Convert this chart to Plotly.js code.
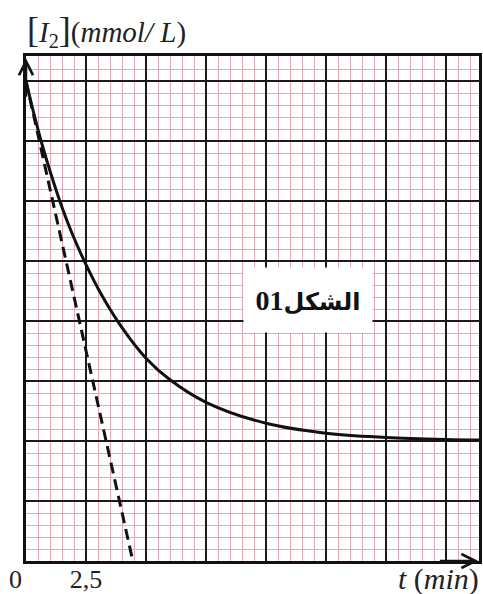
<!DOCTYPE html>
<html>
<head>
<meta charset="utf-8">
<script src="https://cdn.plot.ly/plotly-3.0.1.min.js"></script>
<style>
  html, body { margin: 0; padding: 0; background: #ffffff; }
  #chart { width: 483px; height: 594px; }
</style>
</head>
<body>
<div id="chart"></div>
<script>
// Iodine concentration [I2] versus time t (min), in grid units
const timeMin = [0, 0.3, 0.7, 1.0, 1.4, 1.9, 2.5, 3.2, 4.0, 5.0, 6.0, 7.5, 10, 12.5, 15, 17.5, 18.875];
const iodineConc = [8.0, 7.5, 6.9, 6.5, 6.01, 5.48, 4.94, 4.40, 3.89, 3.38, 3.02, 2.645, 2.295, 2.13, 2.06, 2.025, 2.015];

// Tangent to the curve at t = 0
const tangentTime = [0, 4.45];
const tangentConc = [8.0, 0];

// Time axis: heavy lines every 2.5 min, only 2,5 labelled
const xTickVals = [0, 2.5, 5, 7.5, 10, 12.5, 15, 17.5];
const xTickText = ['', '2,5', '', '', '', '', '', ''];

const serif = 'Liberation Serif, Times New Roman, serif';
const pink = '#e4a9b3';
const ink = '#111111';
const heavy = '#1a1a1a';

const traces = [
  {
    x: tangentTime, y: tangentConc,
    xaxis: 'x2', yaxis: 'y',
    type: 'scatter', mode: 'lines',
    line: { color: ink, width: 3, dash: '11px,6px' },
    hoverinfo: 'skip'
  },
  {
    x: timeMin, y: iodineConc,
    xaxis: 'x2', yaxis: 'y',
    type: 'scatter', mode: 'lines',
    line: { color: ink, width: 3, shape: 'spline', smoothing: 1 },
    hoverinfo: 'skip'
  }
];

const layout = {
  width: 483, height: 594,
  margin: { l: 26, r: 4, t: 56, b: 33 },
  paper_bgcolor: '#ffffff',
  plot_bgcolor: '#ffffff',
  showlegend: false,
  // fine pink ruling every 0.5 min (12 px)
  xaxis: {
    range: [0, 18.875],
    tickmode: 'linear', tick0: 0, dtick: 0.5,
    ticks: '', showticklabels: false,
    showgrid: true, gridcolor: pink, gridwidth: 1,
    showline: true, linecolor: ink, linewidth: 3, mirror: true,
    zeroline: false,
    fixedrange: true
  },
  // heavy ruling and tick label on the same time scale
  xaxis2: {
    matches: 'x', overlaying: 'x', side: 'bottom',
    tickmode: 'array', tickvals: xTickVals, ticktext: xTickText,
    ticks: '', showgrid: true, gridcolor: heavy, gridwidth: 2,
    showline: false, zeroline: false,
    tickfont: { family: serif, size: 26, color: '#222222' },
    fixedrange: true
  },
  // 60 px per unit, fine ruling every 0.2 (12 px)
  yaxis: {
    range: [0, 505 / 60],
    tickmode: 'linear', tick0: 0, dtick: 1,
    ticks: '', showticklabels: false,
    showgrid: true, gridcolor: heavy, gridwidth: 2,
    minor: { tickmode: 'linear', tick0: 0, dtick: 0.2, showgrid: true, gridcolor: pink, gridwidth: 1, ticks: '' },
    showline: true, linecolor: ink, linewidth: 3, mirror: true,
    zeroline: false,
    fixedrange: true
  },
  annotations: [
    // axis arrows
    { x: 0, y: 8.38, xref: 'x', yref: 'y', text: '', showarrow: true,
      ax: 0, ay: 40, arrowhead: 5, arrowsize: 1.1, arrowwidth: 2.5, arrowcolor: ink, standoff: 0 },
    { x: 18.85, y: 0, xref: 'x', yref: 'y', text: '', showarrow: true,
      ax: -40, ay: 0, arrowhead: 5, arrowsize: 1.1, arrowwidth: 2.5, arrowcolor: ink, standoff: 0 },
    // origin label
    { xref: 'paper', yref: 'paper', x: 0, y: 0, xanchor: 'right', yanchor: 'middle',
      xshift: -2, yshift: -18, text: '0', showarrow: false,
      font: { family: serif, size: 26, color: '#222222' } },
    // axis titles
    { xref: 'paper', yref: 'paper', x: 0, y: 1, xanchor: 'left', yanchor: 'middle',
      xshift: -1, yshift: 25, showarrow: false,
      text: '<span style="font-size:36px">[</span><i>I</i><sub>2</sub><span style="font-size:36px">]</span>(<i>mmol/ L</i>)',
      font: { family: serif, size: 29, color: '#222222' } },
    { xref: 'paper', yref: 'paper', x: 1, y: 0, xanchor: 'right', yanchor: 'middle',
      xshift: 2, yshift: -18, showarrow: false,
      text: '<i>t</i> (<i>min</i>)',
      font: { family: serif, size: 30, color: '#222222' } },
    // figure caption box
    { xref: 'x', yref: 'y', x: 11.75, y: 4.35, xanchor: 'center', yanchor: 'middle',
      showarrow: false, text: '<b>الشكل<span style="font-size:28px">01</span></b>',
      width: 128, height: 64, bgcolor: '#ffffff', borderpad: 0,
      align: 'center', valign: 'middle',
      font: { family: 'Liberation Serif, DejaVu Sans, serif', size: 24, color: ink } }
  ]
};

Plotly.newPlot('chart', traces, layout, { staticPlot: true, displayModeBar: false });
</script>
</body>
</html>
